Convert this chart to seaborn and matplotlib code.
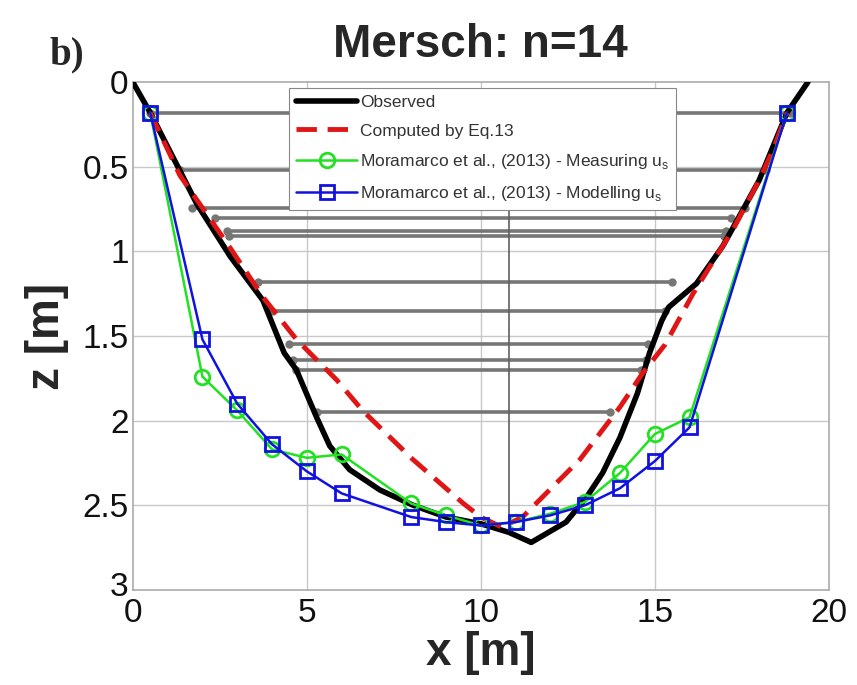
import numpy as np
import pandas as pd
import matplotlib
matplotlib.use("Agg")
import matplotlib.pyplot as plt
import matplotlib.transforms as mtransforms
import seaborn as sns

# ---------------- data ----------------
obs_x = [0.0, 0.5, 1.84, 2.8, 3.74, 4.35, 4.7, 5.28, 5.66, 6.23, 7.1, 8.05, 9.0, 10.0,
         10.8, 11.45, 12.45, 13.05, 13.5, 14.0, 14.5, 14.85, 15.2, 15.4, 16.2, 16.95,
         17.25, 18.0, 18.8, 19.4]
obs_z = [0.0, 0.18, 0.72, 1.03, 1.29, 1.6, 1.70, 1.98, 2.15, 2.29, 2.41, 2.5, 2.57, 2.61,
         2.66, 2.72, 2.6, 2.45, 2.31, 2.1, 1.84, 1.6, 1.41, 1.33, 1.19, 0.97,
         0.86, 0.58, 0.18, 0.0]

eq_x = [0.5, 1.35, 2.8, 3.74, 4.7, 5.86, 6.6, 7.1, 8.05, 9.5, 10.0, 10.6,
        11.2, 12.85, 14.0, 14.65, 15.3, 16.1, 17.25, 18.0, 18.4, 18.8]
eq_z = [0.18, 0.55, 0.98, 1.27, 1.52, 1.76, 1.94, 2.04, 2.23, 2.49, 2.57, 2.63,
        2.57, 2.23, 1.92, 1.72, 1.55, 1.25, 0.87, 0.58, 0.40, 0.18]

meas_x = [0.5, 2.0, 3.0, 4.0, 5.0, 6.0, 8.0, 9.0, 10.0, 11.0, 12.0, 13.0, 14.0, 15.0, 16.0, 18.8]
meas_z = [0.18, 1.74, 1.94, 2.17, 2.22, 2.20, 2.49, 2.56, 2.62, 2.60, 2.55, 2.48, 2.31, 2.08, 1.98, 0.18]

mod_x = [0.5, 2.0, 3.0, 4.0, 5.0, 6.0, 8.0, 9.0, 10.0, 11.0, 12.0, 13.0, 14.0, 15.0, 16.0, 18.8]
mod_z = [0.18, 1.52, 1.90, 2.14, 2.30, 2.43, 2.57, 2.60, 2.62, 2.60, 2.56, 2.50, 2.40, 2.24, 2.04, 0.18]

lev_z = [0.18, 0.52, 0.745, 0.80, 0.88, 0.91, 1.18, 1.35, 1.55, 1.64, 1.70, 1.95]
lev_xl = [0.5, 1.35, 1.7, 2.36, 2.7, 2.75, 3.6, 4.0, 4.5, 4.6, 4.7, 5.3]
lev_xr = [18.9, 18.2, 17.6, 17.2, 17.05, 17.0, 15.5, 15.3, 14.8, 14.75, 14.6, 13.7]

vert_x = 10.8
vert_z = [0.745, 2.62]

x_ticks = [0, 5, 10, 15, 20]
z_ticks = [0, 0.5, 1, 1.5, 2, 2.5, 3]
z_tick_labels = ["0", "0.5", "1", "1.5", "2", "2.5", "3"]

labels = ["Observed", "Computed by Eq.13",
          "Moramarco et al., (2013) - Measuring u$_\\mathregular{s}$",
          "Moramarco et al., (2013) - Modelling u$_\\mathregular{s}$"]

# ---------------- plot ----------------
sns.set_theme(style="white")
plt.rcParams['font.family'] = ['Liberation Sans', 'DejaVu Sans']

fig = plt.figure(figsize=(8.57, 6.85), dpi=100)
ax = fig.add_axes([0.155, 0.139, 0.812, 0.741])

# grid
for xv in [5, 10, 15]:
    ax.axvline(xv, color="#c8c8c8", lw=1.0, zorder=0)
for zv in [0.5, 1, 1.5, 2, 2.5]:
    ax.axhline(zv, color="#c8c8c8", lw=1.0, zorder=0)

# gray horizontal levels
ax.hlines(lev_z, lev_xl, lev_xr, colors="#767676", lw=2.6, zorder=1)
ax.plot(lev_xl, lev_z, 'o', color="#767676", ms=5, zorder=1)
ax.plot(lev_xr, lev_z, 'o', color="#767676", ms=5, zorder=1)
ax.vlines([vert_x], vert_z[0], vert_z[1], colors="#606060", lw=1.2, zorder=1)

df_obs = pd.DataFrame({"x": obs_x, "z": obs_z})
df_eq = pd.DataFrame({"x": eq_x, "z": eq_z})
df_meas = pd.DataFrame({"x": meas_x, "z": meas_z})
df_mod = pd.DataFrame({"x": mod_x, "z": mod_z})

sns.lineplot(data=df_obs, x="x", y="z", ax=ax, sort=False, estimator=None,
             color="black", lw=4, label=labels[0], zorder=3)
sns.lineplot(data=df_eq, x="x", y="z", ax=ax, sort=False, estimator=None,
             color="#e01515", lw=3.5, dashes=False, label=labels[1], zorder=4)
ax.lines[-1].set_linestyle((0, (4.2, 2.2)))
sns.lineplot(data=df_meas, x="x", y="z", ax=ax, sort=False, estimator=None,
             color="#22e022", lw=1.8, marker="o", markersize=10.5, mfc="none",
             mec="#22e022", mew=2, label=labels[2], zorder=5)
sns.lineplot(data=df_mod, x="x", y="z", ax=ax, sort=False, estimator=None,
             color="#1212e0", lw=1.8, marker="s", markersize=9.5, mfc="none",
             mec="#1212e0", mew=2, label=labels[3], zorder=6)

ax.set_xlim(0, 20)
ax.set_ylim(3, 0)
ax.set_xticks(x_ticks)
ax.set_xticklabels([str(v) for v in x_ticks], fontsize=24)
ax.set_yticks(z_ticks)
ax.set_yticklabels(z_tick_labels, fontsize=24)
ax.tick_params(axis='both', which='both', direction='in', length=4, color="#999999",
               labelcolor="#111111")
ax.tick_params(axis='x', pad=6)
ax.tick_params(axis='y', pad=3)
# nudge the bottom y tick label up a little (as in the reference, it sits above the x "0")
last = ax.get_yticklabels()[-1]
last.set_transform(last.get_transform() + mtransforms.ScaledTranslation(0, 4 / 72, fig.dpi_scale_trans))
for s in ax.spines.values():
    s.set_color("#aaaaaa")
    s.set_linewidth(1.2)

ax.set_xlabel("x [m]", fontsize=33, fontweight="bold", labelpad=1)
ax.set_ylabel("z [m]", fontsize=33, fontweight="bold", labelpad=10)

leg = ax.legend(loc="upper center", bbox_to_anchor=(0.503, 0.988), fontsize=12.5,
                frameon=True, fancybox=False, framealpha=1, edgecolor="#888888",
                handlelength=3.5, handletextpad=0.2, borderpad=0.4, labelspacing=0.75,
                borderaxespad=0)
leg.get_frame().set_linewidth(0.8)
leg.set_zorder(10)
for t in leg.get_texts():
    t.set_color("#333333")

fig.text(0.561, 0.935, "Mersch: n=14", ha="center", va="center", fontsize=33,
         fontweight="bold")
fig.text(0.078, 0.92, "b)", ha="center", va="center", fontsize=28, fontweight="bold",
         family=["Liberation Serif", "DejaVu Serif"])

fig.savefig("out.png", dpi=100)
